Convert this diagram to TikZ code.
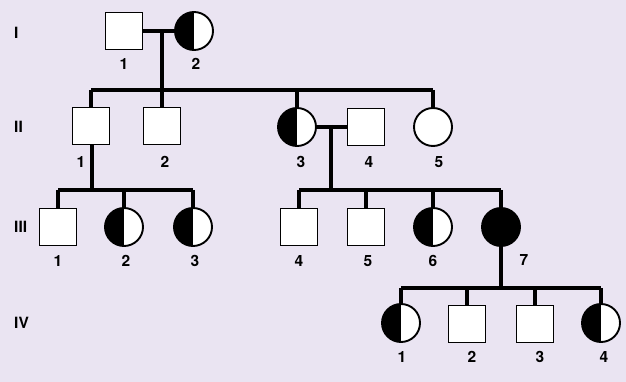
\documentclass[tikz,border=0pt]{standalone}
\usepackage{fontspec}
\setsansfont{TeX Gyre Heros}
\definecolor{bgpaper}{RGB}{234,228,242}

\begin{document}
\begin{tikzpicture}[x=1pt, y=-1pt,
    male/.style={draw, fill=white, line width=1.9pt, minimum size=37pt, inner sep=0pt},
    female/.style={draw, fill=white, circle, line width=1.9pt, minimum size=38pt, inner sep=0pt},
    carrier/.style={female, path picture={\fill[black] (path picture bounding box.south west) rectangle (path picture bounding box.north);}},
    affected/.style={female, fill=black},
    num/.style={font=\fontsize{15.5}{15.5}\selectfont\sffamily\bfseries, inner sep=0pt},
    gen/.style={num, anchor=west},
    link/.style={line width=3.8pt}]

% full canvas with the paper tint
\fill[bgpaper] (0,0) rectangle (626,382);
\useasboundingbox (0,0) rectangle (626,382);

% ---- generation labels ----
\node[gen] (gI)   at (14,33)  {I};
\node[gen] (gII)  at (14,127) {II};
\node[gen] (gIII) at (14,227) {III};
\node[gen] (gIV)  at (14,323) {IV};

% ---- connector points ----
\coordinate (mI)    at (162,31);    % I1 x I2
\coordinate (sI)    at (162,90);    % sibship of generation II
\coordinate (mII)   at (331,125);   % II3 x II4
\coordinate (sII)   at (331,190);   % sibship of II3/II4
\coordinate (sII1)  at (92,190);    % sibship of II1
\coordinate (sIII)  at (501,288);   % sibship of III7

% ---- generation I ----
\node[male]    (I1) at (124,31) {};
\node[carrier] (I2) at (194,31) {};
\node[num] at (124,64) (nI1) {1};
\node[num] at (196,64) (nI2) {2};

% ---- generation II ----
\node[male]    (II1) at (91,126)  {};
\node[male]    (II2) at (162,126) {};
\node[carrier] (II3) at (297,127) {};
\node[male]    (II4) at (366,127) {};
\node[female]  (II5) at (433,127) {};
\node[num] (nII1) at (81,162)  {1};
\node[num] (nII2) at (165,162) {2};
\node[num] (nII3) at (301,162) {3};
\node[num] (nII4) at (369,162) {4};
\node[num] (nII5) at (439,162) {5};

% ---- generation III ----
\node[male]     (III1) at (58,227)  {};
\node[carrier]  (III2) at (124,227) {};
\node[carrier]  (III3) at (193,227) {};
\node[male]     (III4) at (299,227) {};
\node[male]     (III5) at (366,227) {};
\node[carrier]  (III6) at (433,227) {};
\node[affected] (III7) at (501,227) {};
\node[num] (nIII1) at (58,261)  {1};
\node[num] (nIII2) at (126,261) {2};
\node[num] (nIII3) at (195,261) {3};
\node[num] (nIII4) at (299,261) {4};
\node[num] (nIII5) at (368,261) {5};
\node[num] (nIII6) at (433,261) {6};
\node[num] (nIII7) at (524,260) {7};

% ---- generation IV ----
\node[carrier] (IV1) at (401,323) {};
\node[male]    (IV2) at (467,324) {};
\node[male]    (IV3) at (535,324) {};
\node[carrier] (IV4) at (601,323) {};
\node[num] (nIV1) at (402,357) {1};
\node[num] (nIV2) at (472,357) {2};
\node[num] (nIV3) at (540,357) {3};
\node[num] (nIV4) at (604,357) {4};

% ---- connectors ----
\draw[link] (I1.east) -- (I2.west);
\draw[link] (mI) -- (sI);
\draw[link] (II1.north |- sI) -- (II5.north |- sI);
\draw[link] (II1.north |- sI) -- (II1.north)
            (sI) -- (II2.north)
            (II3.north |- sI) -- (II3.north)
            (II5.north |- sI) -- (II5.north);

\draw[link] (II3.east) -- (II4.west);
\draw[link] (mII) -- (sII);
\draw[link] (III4.north |- sII) -- (III7.north |- sII);
\draw[link] (III4.north |- sII) -- (III4.north)
            (III5.north |- sII) -- (III5.north)
            (III6.north |- sII) -- (III6.north)
            (III7.north |- sII) -- (III7.north);

\draw[link] (II1.south -| sII1) -- (sII1);
\draw[link] (III1.north |- sII1) -- (III3.north |- sII1);
\draw[link] (III1.north |- sII1) -- (III1.north)
            (III2.north |- sII1) -- (III2.north)
            (III3.north |- sII1) -- (III3.north);

\draw[link] (III7.south) -- (sIII);
\draw[link] (IV1.north |- sIII) -- (IV4.north |- sIII);
\draw[link] (IV1.north |- sIII) -- (IV1.north)
            (IV2.north |- sIII) -- (IV2.north)
            (IV3.north |- sIII) -- (IV3.north)
            (IV4.north |- sIII) -- (IV4.north);

\end{tikzpicture}
\end{document}
